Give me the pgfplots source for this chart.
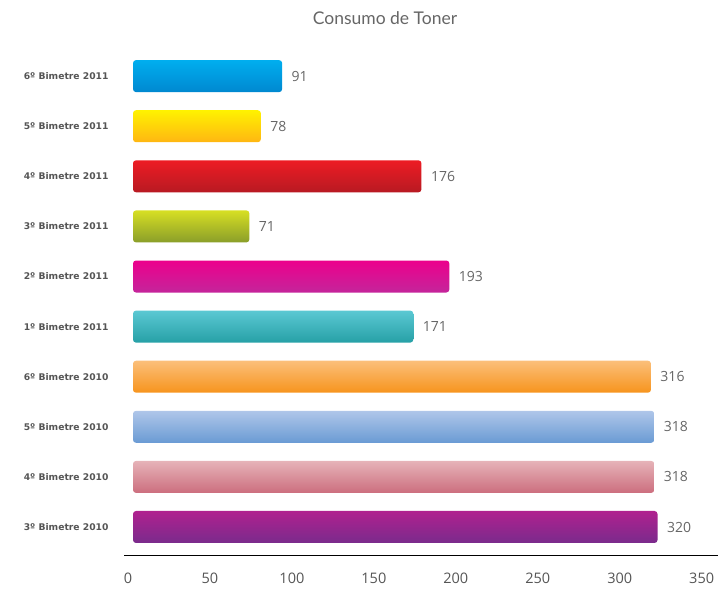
\documentclass[border=0pt]{standalone}
\usepackage{fontspec}
\setmainfont{Open Sans}
\newfontfamily\labfont{DejaVu Sans}
\newfontfamily\titfont{Lato}
\usepackage{pgfplots}
\pgfplotsset{compat=1.18}
\definecolor{aT}{HTML}{00AEEF}\definecolor{aB}{HTML}{0088D0}
\definecolor{bT}{HTML}{FFF200}\definecolor{bB}{HTML}{FFB612}
\definecolor{cT}{HTML}{ED1C24}\definecolor{cB}{HTML}{B81A22}
\definecolor{dT}{HTML}{D7DF23}\definecolor{dB}{HTML}{8A9E2A}
\definecolor{eT}{HTML}{EC008C}\definecolor{eB}{HTML}{C4259B}
\definecolor{fT}{HTML}{5BC8D3}\definecolor{fB}{HTML}{26A0A6}
\definecolor{gT}{HTML}{FBBF7A}\definecolor{gB}{HTML}{F7941D}
\definecolor{hT}{HTML}{AFC6E9}\definecolor{hB}{HTML}{6A9BD4}
\definecolor{iT}{HTML}{E6B3B8}\definecolor{iB}{HTML}{CC6E7E}
\definecolor{jT}{HTML}{B0218F}\definecolor{jB}{HTML}{7A2B8C}
\definecolor{txt}{HTML}{666666}
\definecolor{lab}{HTML}{555555}
\begin{document}
\begin{tikzpicture}
\path[use as bounding box] (0pt,0pt) rectangle (723pt,594pt);
\begin{axis}[
  at={(128pt,67pt)}, anchor=origin,
  scale only axis, width=594pt, height=509pt,
  xmin=-2.4, xmax=360, ymin=-0.56, ymax=9.6,
  xbar, bar width=32pt, bar shift=0pt,
  axis lines*=left,
  y axis line style={draw=none},
  x axis line style={black, line width=0.8pt, -},
  xtick={0,50,...,350},
  ytick={0,...,9},
  yticklabels={3º Bimetre 2010,4º Bimetre 2010,5º Bimetre 2010,6º Bimetre 2010,1º Bimetre 2011,2º Bimetre 2011,3º Bimetre 2011,4º Bimetre 2011,5º Bimetre 2011,6º Bimetre 2011},
  major tick length=0pt,
  /pgf/number format/assume math mode=true,
  xticklabel style={font=\fontsize{14.5}{16}\selectfont, text=lab, yshift=-14pt},
  yticklabel style={font=\labfont\bfseries\fontsize{9.2}{10}\selectfont, text=lab, xshift=-12pt},
  nodes near coords, point meta=x,
  every node near coord/.append style={anchor=west, font=\fontsize{14}{16}\selectfont, text=txt, xshift=6pt},
  clip=false,
  every axis plot/.append style={draw=none, rounded corners=3pt, xshift=5pt},
]
\addplot[top color=jT, bottom color=jB] coordinates {(320,0)};
\addplot[top color=iT, bottom color=iB] coordinates {(318,1)};
\addplot[top color=hT, bottom color=hB] coordinates {(318,2)};
\addplot[top color=gT, bottom color=gB] coordinates {(316,3)};
\addplot[top color=fT, bottom color=fB] coordinates {(171,4)};
\addplot[top color=eT, bottom color=eB] coordinates {(193,5)};
\addplot[top color=dT, bottom color=dB] coordinates {(71,6)};
\addplot[top color=cT, bottom color=cB] coordinates {(176,7)};
\addplot[top color=bT, bottom color=bB] coordinates {(78,8)};
\addplot[top color=aT, bottom color=aB] coordinates {(91,9)};
\end{axis}
\node[font=\titfont\fontsize{17.5}{20}\selectfont, text=txt] at (385pt,576pt) {Consumo de Toner};
\end{tikzpicture}
\end{document}
